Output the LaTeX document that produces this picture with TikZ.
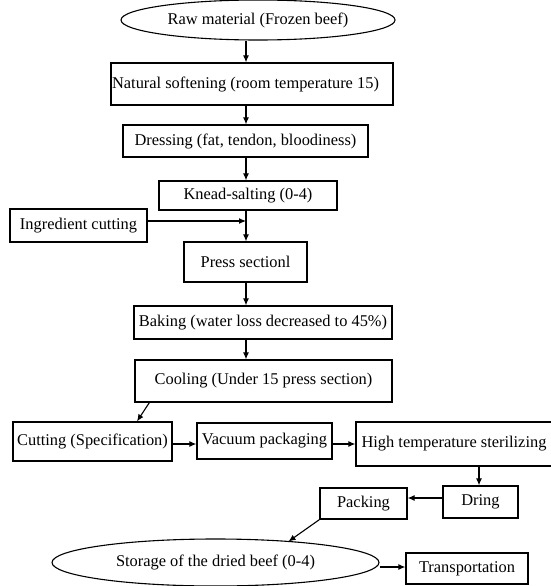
\documentclass[tikz,border=0pt]{standalone}
\usepackage{fontspec}
\setmainfont{Liberation Serif}
\usetikzlibrary{shapes.geometric,arrows.meta,calc}
\begin{document}
\begin{tikzpicture}[x=1pt,y=-1pt,
  every node/.style={font=\fontsize{16.4}{18}\selectfont, inner sep=0pt},
  box/.style={draw, line width=1.3pt, rectangle},
  oval/.style={draw, line width=1.1pt, ellipse},
  arr/.style={line width=1.1pt, -{Latex[length=7pt,width=6pt]}}]
\useasboundingbox (0,0) rectangle (550,586);
\coordinate (spine) at (246,0);
\node[oval, minimum width=274, minimum height=40] (raw) at (258,20) {Raw material (Frozen beef)};
\node[box, minimum width=282, minimum height=42] (nat) at (252,84) {Natural softening (room temperature 15)\hspace*{13pt}};
\node[box, minimum width=245, minimum height=32] (dress) at (245.5,141) {Dressing (fat, tendon, bloodiness)};
\node[box, minimum width=178, minimum height=29] (knead) at (248,195.5) {Knead-salting (0-4)};
\node[box, minimum width=137, minimum height=33] (ing) at (78.5,225.5) {Ingredient cutting};
\node[box, minimum width=123, minimum height=40] (press) at (245.5,262) {Press sectionl};
\node[box, minimum width=258, minimum height=33] (bake) at (263,322.5) {Baking (water loss decreased to 45\%)};
\node[box, minimum width=257, minimum height=42] (cool) at (263.5,381) {Cooling (Under 15 press section)};
\node[box, minimum width=159, minimum height=39] (cut) at (92.5,441.5) {Cutting (Specification)};
\node[box, minimum width=135, minimum height=36] (vac) at (264.5,441) {Vacuum packaging};
\node[box, minimum width=196, minimum height=44] (ht) at (454,444) {High temperature sterilizing};
\node[box, minimum width=75, minimum height=32] (dring) at (480.5,502) {Dring};
\node[box, minimum width=87, minimum height=31] (pack) at (363.5,503.5) {Packing};
\node[oval, minimum width=327, minimum height=47] (store) at (215.5,562.5) {Storage of the dried beef (0-4)};
\node[box, minimum width=122, minimum height=31] (trans) at (467,568.5) {Transportation};
\draw[arr] (raw.south -| spine) -- (nat.north -| spine);
\draw[arr] (nat.south -| spine) -- (dress.north -| spine);
\draw[arr] (dress.south -| spine) -- (knead.north -| spine);
\draw[arr] (knead.south -| spine) -- (press.north -| spine);
\draw[arr] (ing.east |- 0,221) -- (spine |- 0,221);
\draw[arr] (press.south -| spine) -- (bake.north -| spine);
\draw[arr] (bake.south -| spine) -- (cool.north -| spine);
\draw[arr] ($(cool.south west)+(15,0)$) -- ($(cut.north)+(44.5,0)$);
\draw[arr] (cut.east |- 0,444) -- (vac.west |- 0,444);
\draw[arr] (vac.east |- 0,444) -- (ht.west |- 0,444);
\draw[arr] (ht.south -| dring) ++(-1.5,0) coordinate (a1) -- (a1 |- dring.north);
\draw[arr] (dring.west |- 0,498) -- (pack.east |- 0,498);
\draw[arr] (pack.south west) -- ($(store.north)+(73,3)$);
\draw[arr] (store.east |- 0,567) -- (trans.west |- 0,567);
\end{tikzpicture}
\end{document}
